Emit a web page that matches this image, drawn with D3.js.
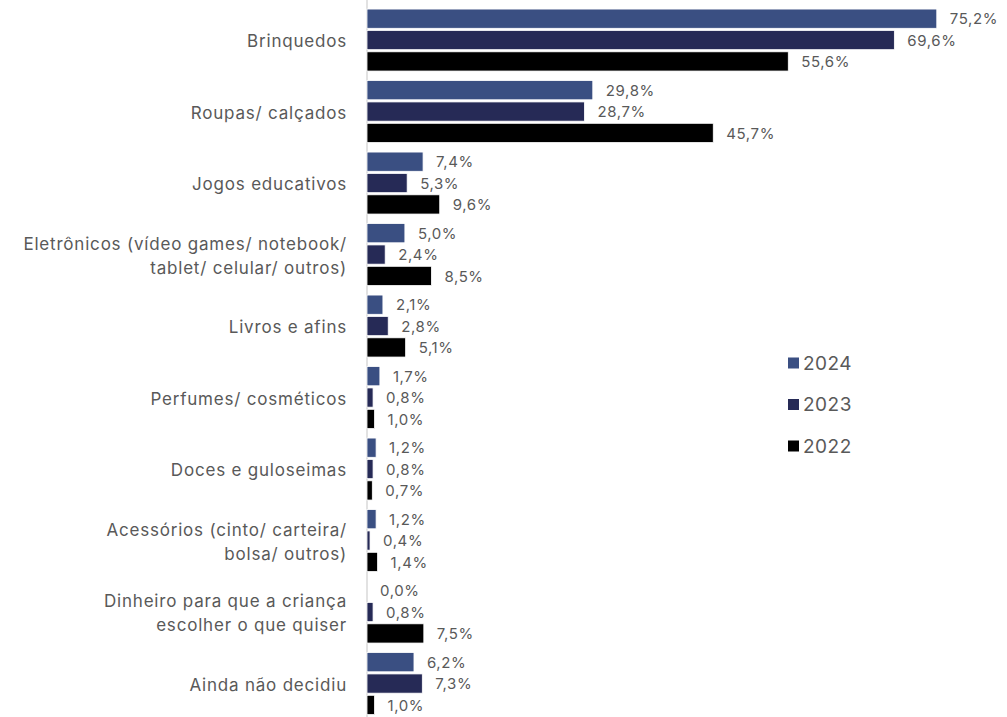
<!DOCTYPE html>
<html><head><meta charset="utf-8">
<script src="https://cdn.jsdelivr.net/npm/d3@7"></script>
<style>body{margin:0;background:#fff;} text{font-family:Inter,"Open Sans",sans-serif;}</style>
</head><body>
<svg id="c" width="1007" height="717"></svg>
<script>
const categories = [
  ["Brinquedos"],
  ["Roupas/ calçados"],
  ["Jogos educativos"],
  ["Eletrônicos (vídeo games/ notebook/","tablet/ celular/ outros)"],
  ["Livros e afins"],
  ["Perfumes/ cosméticos"],
  ["Doces e guloseimas"],
  ["Acessórios (cinto/ carteira/","bolsa/ outros)"],
  ["Dinheiro para que a criança","escolher o que quiser"],
  ["Ainda não decidiu"]
];
const seriesNames = ["2024","2023","2022"];
const values2024 = [75.2,29.8,7.4,5.0,2.1,1.7,1.2,1.2,0.0,6.2];
const values2023 = [69.6,28.7,5.3,2.4,2.8,0.8,0.8,0.4,0.8,7.3];
const values2022 = [55.6,45.7,9.6,8.5,5.1,1.0,0.7,1.4,7.5,1.0];
const colors = ["#3A4F82","#262A56","#000000"];

const svg = d3.select("#c");
const series = [values2024, values2023, values2022];
const idx = d3.range(categories.length);

const x = d3.scaleLinear().domain([0,80]).range([367, 367+7.577*80]);
const y = d3.scaleBand().domain(idx).range([4.3, 719.3]).paddingInner(0.133).paddingOuter(0.0665);
const ys = d3.scaleBand().domain([0,1,2]).range([0, y.bandwidth()]).paddingInner(0.1);

// axis line
svg.append("line").attr("x1",x(0)).attr("x2",x(0)).attr("y1",0).attr("y2",717)
  .attr("stroke","#d9d9d9").attr("stroke-width",1.5);

const g = svg.selectAll("g.cat").data(idx).join("g").attr("class","cat")
  .attr("transform", i => `translate(0,${y(i)})`);

series.forEach((vals, s) => {
  g.append("rect")
    .attr("x", x(0))
    .attr("y", ys(s))
    .attr("width", i => Math.max(0, x(vals[i]) - x(0)))
    .attr("height", ys.bandwidth())
    .attr("fill", colors[s])
    .attr("stroke", "#fff").attr("stroke-width", 0.8);
  g.append("text")
    .attr("x", i => x(vals[i]) + 13)
    .attr("y", ys(s) + ys.bandwidth()/2 + 0.5)
    .attr("dy","0.35em")
    .attr("font-size", 15)
    .attr("letter-spacing", 0.6)
    .attr("fill","#595959")
    .text(i => vals[i].toFixed(1).replace(".", ",") + "%");
});

// category labels
g.each(function(i){
  const lines = categories[i];
  const t = d3.select(this).append("text")
    .attr("text-anchor","end")
    .attr("font-size",17)
    .attr("letter-spacing",0.8)
    .attr("fill","#595959");
  const cy = y.bandwidth()/2 + 1.5;
  lines.forEach((l, k) => {
    t.append("tspan").attr("x", 347)
      .attr("y", cy + (k - (lines.length-1)/2) * 24)
      .attr("dy","0.35em").text(l);
  });
});

// legend
const legY = d3.scalePoint().domain(seriesNames).range([363, 446]);
const lg = svg.selectAll("g.leg").data(seriesNames).join("g").attr("class","leg")
  .attr("transform", d => `translate(788,${legY(d)})`);
lg.append("rect").attr("x",0).attr("y",-5.5).attr("width",11).attr("height",11)
  .attr("fill",(d,i)=>colors[i]);
lg.append("text").attr("x",15).attr("dy","0.36em").attr("font-size",19).attr("letter-spacing",0.5).attr("fill","#595959").text(d=>d);
</script>
</body></html>
